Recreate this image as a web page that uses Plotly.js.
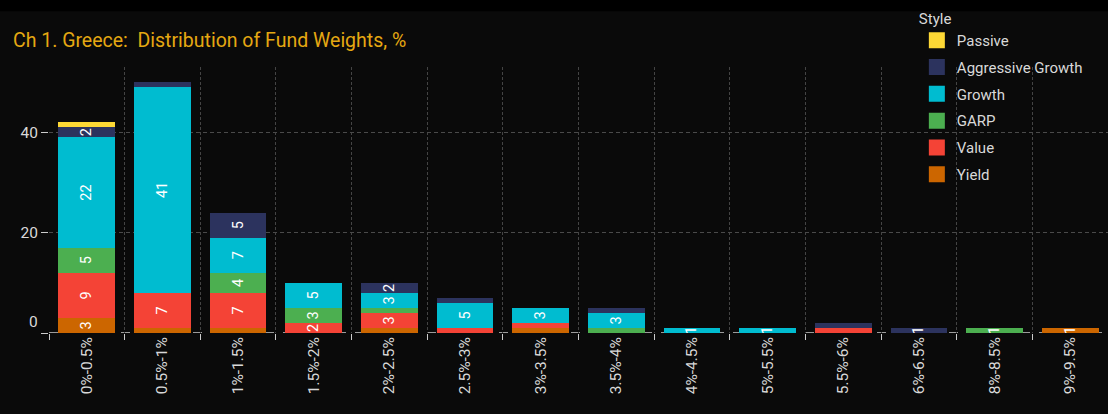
<!DOCTYPE html>
<html>
<head>
<meta charset="utf-8">
<script src="https://cdn.plot.ly/plotly-3.0.1.min.js"></script>
<style>
html,body{margin:0;padding:0;background:#0a0a0a;}
#chart{width:1108px;height:414px;}
</style>
</head>
<body>
<div id="chart"></div>
<script>
const categories = ['0%-0.5%','0.5%-1%','1%-1.5%','1.5%-2%','2%-2.5%','2.5%-3%','3%-3.5%','3.5%-4%','4%-4.5%','5%-5.5%','5.5%-6%','6%-6.5%','8%-8.5%','9%-9.5%'];
const yieldVals      = [3, 1, 1, 0, 1, 0, 1, 0, 0, 0, 0, 0, 0, 1];
const valueVals      = [9, 7, 7, 2, 3, 1, 1, 0, 0, 0, 1, 0, 0, 0];
const garpVals       = [5, 0, 4, 3, 1, 0, 0, 1, 0, 0, 0, 0, 1, 0];
const growthVals     = [22, 41, 7, 5, 3, 5, 3, 3, 1, 1, 0, 0, 0, 0];
const aggGrowthVals  = [2, 1, 5, 0, 2, 1, 0, 1, 0, 0, 1, 1, 0, 0];
const passiveVals    = [1, 0, 0, 0, 0, 0, 0, 0, 0, 0, 0, 0, 0, 0];
const yTicks = [0, 20, 40];

const series = [
  {name: 'Yield', values: yieldVals, color: '#cc6600'},
  {name: 'Value', values: valueVals, color: '#f44336'},
  {name: 'GARP', values: garpVals, color: '#4caf50'},
  {name: 'Growth', values: growthVals, color: '#00bcd0'},
  {name: 'Aggressive Growth', values: aggGrowthVals, color: '#2c335e'},
  {name: 'Passive', values: passiveVals, color: '#fdd835'}
];

const totals = categories.map((c, i) => series.reduce((s, t) => s + t.values[i], 0));

const FONT = 'Roboto, "Noto Sans", sans-serif';
const traces = [];
series.forEach(s => {
  traces.push({
    type: 'bar',
    name: s.name,
    x: categories,
    y: s.values,
    legendgroup: s.name,
    showlegend: false,
    marker: {color: s.color, line: {width: 0}},
    text: s.values.map((v, i) => (v >= 2 || (v > 0 && v === totals[i])) ? String(v) : ''),
    textposition: 'inside',
    insidetextanchor: 'middle',
    textangle: -90,
    constraintext: 'none',
    insidetextfont: {color: '#ffffff', size: 14.5, family: FONT},
    hoverinfo: 'x+y+name'
  });
});
series.slice().reverse().forEach(s => {
  traces.push({
    type: 'scatter',
    mode: 'markers',
    name: s.name,
    x: [null],
    y: [null],
    legendgroup: s.name,
    showlegend: true,
    marker: {symbol: 'square', size: 16, color: s.color}
  });
});

const layout = {
  width: 1108,
  height: 414,
  paper_bgcolor: '#0a0a0a',
  plot_bgcolor: '#0a0a0a',
  margin: {l: 49, r: 0, t: 67, b: 81},
  barmode: 'stack',
  bargap: 0.25,
  font: {family: FONT, color: '#d9d9d9', size: 15},
  title: {
    text: 'Ch 1. Greece:  Distribution of Fund Weights, %',
    font: {family: FONT, size: 19.5, color: '#e5a812'},
    xref: 'container', yref: 'container',
    x: 0.0117, xanchor: 'left',
    y: 0.903, yanchor: 'middle'
  },
  xaxis: {
    type: 'category',
    tickson: 'boundaries',
    ticks: 'outside',
    ticklen: 6,
    tickcolor: '#cccccc',
    tickangle: -90,
    tickfont: {size: 15.5, color: '#d9d9d9', family: FONT},
    showgrid: true,
    gridcolor: '#444444',
    griddash: '3px,2px',
    gridwidth: 1,
    showline: false,
    zeroline: false
  },
  yaxis: {
    range: [0, 53],
    tickvals: yTicks,
    ticktext: yTicks.map(v => v === 0 ? '' : String(v)),
    ticks: 'outside',
    ticklen: 7,
    tickcolor: '#cccccc',
    tickfont: {size: 15.5, color: '#d9d9d9', family: FONT},
    showgrid: true,
    gridcolor: '#4a4a4a',
    griddash: '4px,3px',
    zeroline: false,
    showline: false
  },
  shapes: [
    {type: 'line', xref: 'paper', x0: 0, x1: 1, yref: 'y', y0: 0, y1: 0,
     line: {color: '#cccccc', width: 1.5, dash: 'dash'}, layer: 'below'},
    {type: 'rect', xref: 'paper', x0: -0.05, x1: 1.01, yref: 'paper', y0: 1.21, y1: 1.3,
     fillcolor: '#000000', line: {width: 0}, layer: 'below'}
  ],
  annotations: [
    {text: String(yTicks[0]), xref: 'paper', x: 0, xanchor: 'right', xshift: -9,
     yref: 'y', y: 0, yanchor: 'middle', yshift: 11, showarrow: false,
     font: {size: 15.5, color: '#d9d9d9', family: FONT}}
  ],
  legend: {
    title: {text: 'Style', font: {size: 15, color: '#d9d9d9', family: FONT}},
    traceorder: 'grouped',
    tracegroupgap: 4.3,
    x: 0.8195, xanchor: 'left',
    y: 1.235, yanchor: 'top',
    bgcolor: 'rgba(0,0,0,0)',
    font: {size: 15, color: '#d9d9d9', family: FONT}
  },
  showlegend: true
};

Plotly.newPlot('chart', traces, layout, {displayModeBar: false, staticPlot: true});
</script>
</body>
</html>
